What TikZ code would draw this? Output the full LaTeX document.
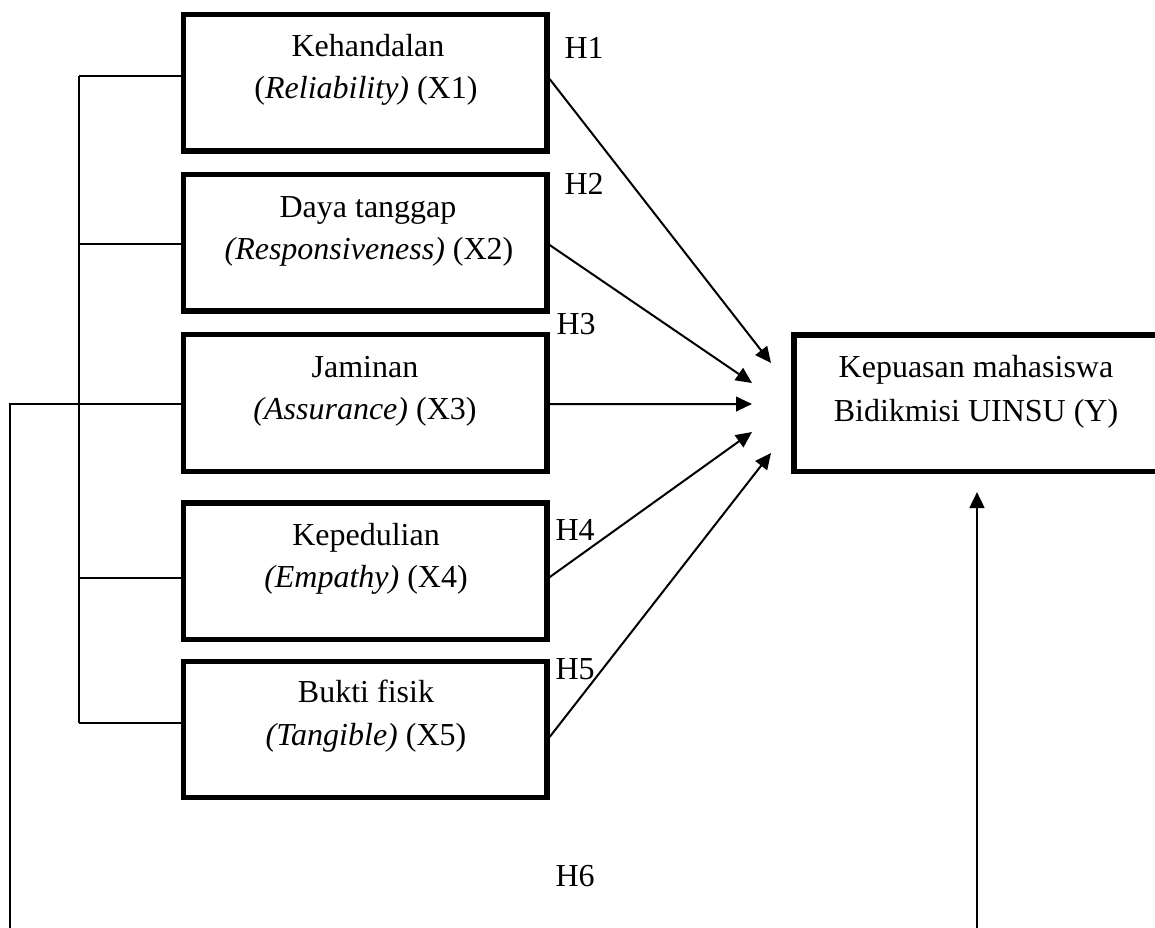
\documentclass[tikz,border=0pt]{standalone}
\usepackage{fontspec}
\setmainfont{Liberation Serif}
\usetikzlibrary{arrows.meta}
\begin{document}
\begin{tikzpicture}[x=0.375pt,y=-0.375pt,
  box/.style={draw, line width=2pt, minimum width=136.3pt, minimum height=51.2pt, inner sep=0pt},
  txt/.style={anchor=base, inner sep=0pt, font=\fontsize{12}{14}\selectfont},
  hlab/.style={anchor=base west, inner sep=0pt, font=\fontsize{12}{14}\selectfont},
  conn/.style={line width=0.75pt},
  arr/.style={line width=0.75pt, -{Triangle[length=6pt,width=5.5pt]}}]
\useasboundingbox (0,0) rectangle (1155,927);
% boxes
\node[box] (x1) at (365.25,82.75) {};
\node[box] (x2) at (365.25,242.75) {};
\node[box] (x3) at (365.25,403) {};
\node[box] (x4) at (365.25,571.25) {};
\node[box] (x5) at (365.25,729.5) {};
\node[box, minimum width=141pt] (y) at (982,403.25) {};
% texts
\node[txt] (x1a) at (368,56) {Kehandalan};
\node[txt] (x1b) at (366,98) {(\textit{Reliability)} (X1)};
\node[txt] (x2a) at (368,217) {Daya tanggap};
\node[txt] (x2b) at (369,259) {\textit{(Responsiveness)} (X2)};
\node[txt] (x3a) at (365,377) {Jaminan};
\node[txt] (x3b) at (365,419) {\textit{(Assurance)} (X3)};
\node[txt] (x4a) at (366,545) {Kepedulian};
\node[txt] (x4b) at (366,587) {\textit{(Empathy)} (X4)};
\node[txt] (x5a) at (366,702) {Bukti fisik};
\node[txt] (x5b) at (366,745) {\textit{(Tangible)} (X5)};
\node[txt] (ya) at (976,377) {Kepuasan mahasiswa};
\node[txt] (yb) at (976,421) {Bidikmisi UINSU (Y)};
% hypothesis labels
\node[hlab] (h1) at (564,58) {H1};
\node[hlab] (h2) at (564,194) {H2};
\node[hlab] (h3) at (556,334) {H3};
\node[hlab] (h4) at (555,540) {H4};
\node[hlab] (h5) at (555,679) {H5};
\node[hlab] (h6) at (555,886) {H6};
% bracket
\coordinate (b1) at (79,76);
\coordinate (b2) at (79,244);
\coordinate (b4) at (79,578);
\coordinate (b5) at (79,723);
\draw[conn] (b1) -- (b5);
\draw[conn] (b1) -- (b1 -| x1.west);
\draw[conn] (b2) -- (b2 -| x2.west);
\draw[conn] (b4) -- (b4 -| x4.west);
\draw[conn] (b5) -- (b5 -| x5.west);
\coordinate (l3) at (9.5,404);
\coordinate (lb) at (9.5,940);
\draw[conn] (lb) -- (l3) -- (l3 -| x3.west);
% arrows
\coordinate (t1) at (771,363);
\coordinate (t2) at (752,383);
\coordinate (t3) at (752,404);
\coordinate (t4) at (752,432);
\coordinate (t5) at (771,453);
\draw[arr] ([yshift=1.4pt]x1.east) -- (t1);
\draw[arr] ([yshift=-0.85pt]x2.east) -- (t2);
\draw[arr] ([yshift=-0.4pt]x3.east) -- (t3);
\draw[arr] ([yshift=-2.2pt]x4.east) -- (t4);
\draw[arr] ([yshift=-2.8pt]x5.east) -- (t5);
\coordinate (ty) at (977,492);
\coordinate (yb0) at (977,940);
\draw[arr, line width=1pt] (yb0) -- (ty);
\end{tikzpicture}
\end{document}
